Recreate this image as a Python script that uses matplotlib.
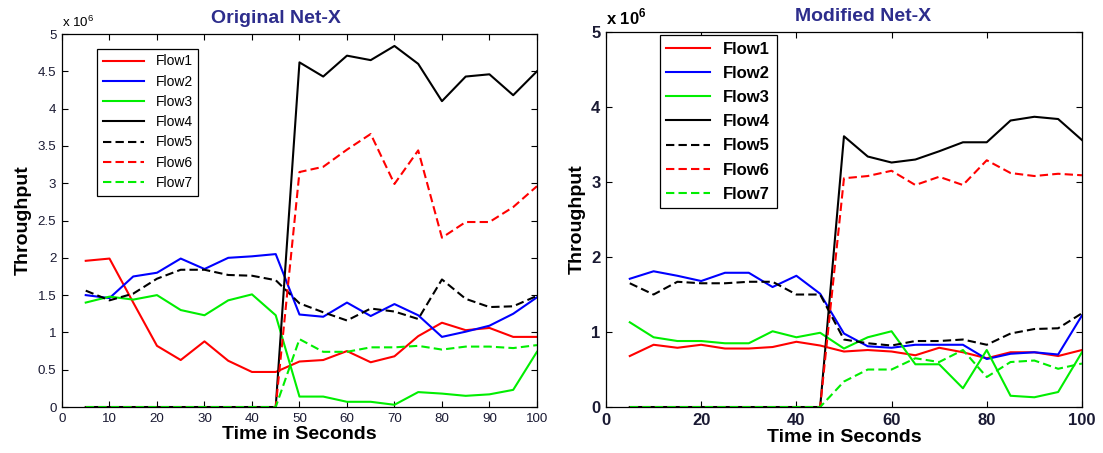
#############################
# import ####################
#############################

import matplotlib
matplotlib.use('Agg')
import matplotlib.pyplot as plt
from matplotlib.ticker import MultipleLocator

plt.rc('font', family=['Liberation Sans', 'DejaVu Sans'])
plt.rc('mathtext', fontset='custom', rm='Liberation Sans',
       bf='Liberation Sans:bold')

#############################
# data (throughput x 10^6) ##
#############################

time = list(range(5, 105, 5))
flow_labels = ['Flow1', 'Flow2', 'Flow3', 'Flow4', 'Flow5', 'Flow6', 'Flow7']

# Original Net-X
orig_flow1 = [1.96, 1.99, 1.40, 0.82, 0.63, 0.88, 0.62, 0.47, 0.47, 0.61,
              0.63, 0.75, 0.60, 0.68, 0.95, 1.13, 1.03, 1.06, 0.94, 0.94]
orig_flow2 = [1.50, 1.46, 1.75, 1.80, 1.99, 1.85, 2.00, 2.02, 2.05, 1.24,
              1.21, 1.40, 1.22, 1.38, 1.23, 0.94, 1.01, 1.09, 1.25, 1.47]
orig_flow3 = [1.40, 1.48, 1.44, 1.50, 1.30, 1.23, 1.43, 1.51, 1.23, 0.14,
              0.14, 0.07, 0.07, 0.03, 0.20, 0.18, 0.15, 0.17, 0.23, 0.74]
orig_flow4 = [0, 0, 0, 0, 0, 0, 0, 0, 0, 4.62,
              4.43, 4.71, 4.65, 4.84, 4.60, 4.10, 4.43, 4.46, 4.18, 4.50]
orig_flow5 = [1.56, 1.43, 1.52, 1.72, 1.84, 1.84, 1.77, 1.76, 1.70, 1.39,
              1.27, 1.16, 1.32, 1.28, 1.18, 1.71, 1.45, 1.34, 1.35, 1.49]
orig_flow6 = [0, 0, 0, 0, 0, 0, 0, 0, 0, 3.15,
              3.22, 3.45, 3.66, 2.99, 3.44, 2.27, 2.48, 2.48, 2.68, 2.96]
orig_flow7 = [0, 0, 0, 0, 0, 0, 0, 0, 0, 0.91,
              0.74, 0.74, 0.80, 0.80, 0.82, 0.77, 0.81, 0.81, 0.79, 0.83]

# Modified Net-X
mod_flow1 = [0.68, 0.83, 0.79, 0.83, 0.78, 0.78, 0.80, 0.87, 0.82, 0.74,
             0.76, 0.74, 0.69, 0.79, 0.73, 0.65, 0.73, 0.73, 0.68, 0.76]
mod_flow2 = [1.71, 1.81, 1.75, 1.68, 1.79, 1.79, 1.60, 1.75, 1.51, 0.98,
             0.81, 0.79, 0.83, 0.83, 0.83, 0.64, 0.71, 0.73, 0.70, 1.22]
mod_flow3 = [1.13, 0.93, 0.88, 0.88, 0.85, 0.85, 1.01, 0.93, 0.99, 0.78,
             0.93, 1.01, 0.57, 0.57, 0.25, 0.76, 0.15, 0.13, 0.20, 0.73]
mod_flow4 = [0, 0, 0, 0, 0, 0, 0, 0, 0, 3.61,
             3.34, 3.26, 3.30, 3.41, 3.53, 3.53, 3.82, 3.87, 3.84, 3.56]
mod_flow5 = [1.65, 1.50, 1.67, 1.65, 1.65, 1.67, 1.67, 1.50, 1.50, 0.90,
             0.85, 0.82, 0.88, 0.88, 0.90, 0.83, 0.98, 1.04, 1.05, 1.25]
mod_flow6 = [0, 0, 0, 0, 0, 0, 0, 0, 0, 3.05,
             3.08, 3.15, 2.96, 3.07, 2.96, 3.29, 3.12, 3.08, 3.11, 3.09]
mod_flow7 = [0, 0, 0, 0, 0, 0, 0, 0, 0, 0.34,
             0.50, 0.50, 0.65, 0.60, 0.76, 0.40, 0.60, 0.62, 0.51, 0.58]

orig_flows = [orig_flow1, orig_flow2, orig_flow3, orig_flow4,
              orig_flow5, orig_flow6, orig_flow7]
mod_flows = [mod_flow1, mod_flow2, mod_flow3, mod_flow4,
             mod_flow5, mod_flow6, mod_flow7]

flow_colors = ['#ff0000', '#0000ff', '#00ee00', 'k', 'k', '#ff0000', '#00ee00']
flow_styles = ['-', '-', '-', '-', '--', '--', '--']

title_color = '#2d2d8c'

#############################
# plotting ##################
#############################

fig = plt.figure(figsize=(11.03, 4.53), dpi=100)
ax1 = fig.add_axes([0.0562, 0.1015, 0.4306, 0.8234])
ax2 = fig.add_axes([0.5494, 0.1015, 0.4315, 0.8278])


def draw_panel(ax, flows, title, title_x, bold, tick_size, leg_size,
               xstep, ystep, leg_anchor, handlelen, labelspace):
    weight = 'bold' if bold else 'normal'
    for f, lab, c, ls in zip(flows, flow_labels, flow_colors, flow_styles):
        ax.plot(time, f, color=c, linestyle=ls, linewidth=1.5, label=lab,
                dashes=(4, 2) if ls == '--' else (None, None))
    ax.set_xlim(0, 100)
    ax.set_ylim(0, 5)
    ax.xaxis.set_major_locator(MultipleLocator(xstep))
    ax.yaxis.set_major_locator(MultipleLocator(ystep))
    if ystep == 0.5:
        ax.set_yticklabels(['%g' % v for v in ax.get_yticks()])
    ax.tick_params(direction='in', top=True, right=True, length=4,
                   width=0.8, labelsize=tick_size, pad=4)
    for lab in ax.get_xticklabels() + ax.get_yticklabels():
        lab.set_fontweight(weight)
        lab.set_color('#1a1a33')
    for sp in ax.spines.values():
        sp.set_linewidth(0.9)
    ax.set_xlabel('Time in Seconds', fontsize=14, fontweight='bold', labelpad=1)
    ax.set_ylabel('Throughput', fontsize=14, fontweight='bold', labelpad=4)
    ax.text(title_x, 1.02, title, transform=ax.transAxes, ha='center',
            va='bottom', fontsize=14, fontweight='bold', color=title_color)
    mult = r'x 10$^{\mathbf{6}}$' if bold else r'x 10$^{6}$'
    ax.text(0.0, 1.012, mult, transform=ax.transAxes, ha='left',
            va='bottom', fontsize=tick_size, fontweight=weight)
    leg = ax.legend(loc='upper left', bbox_to_anchor=leg_anchor,
                    fancybox=False, edgecolor='k', framealpha=1,
                    borderaxespad=0, handlelength=handlelen,
                    labelspacing=labelspace,
                    prop={'size': leg_size, 'weight': weight})
    leg.get_frame().set_linewidth(0.9)


draw_panel(ax1, orig_flows, 'Original Net-X', 0.45, False, 9.6, 10,
           10, 0.5, (0.074, 0.96), 3.0, 0.45)
draw_panel(ax2, mod_flows, 'Modified Net-X', 0.54, True, 12, 12,
           20, 1, (0.113, 0.992), 2.6, 0.55)

plt.savefig('out.png', dpi=100)
